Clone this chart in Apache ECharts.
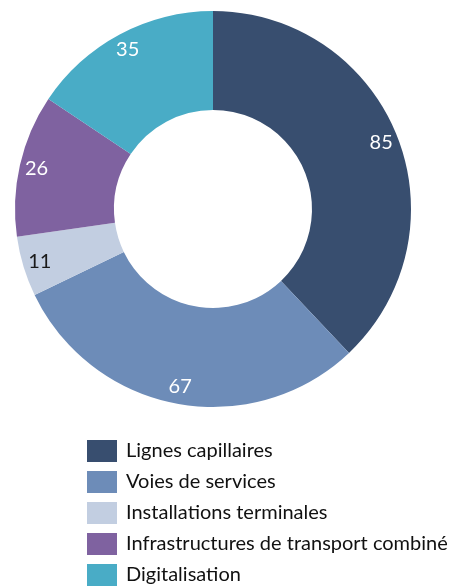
<!DOCTYPE html>
<html>
  <head>
    <meta charset="UTF-8">
    <title>Répartition</title>
    <style type="text/css">
      body {
        margin: 0;
        padding: 0;
        background-color: white;
      }
      #main {
        width: 454px;
        height: 586px;
      }
    </style>
  </head>
  <body>
    <div id="main"></div>
    <script src="https://cdn.jsdelivr.net/npm/echarts@6/dist/echarts.min.js"></script>
    <script type="text/javascript">
      var categories = ['Lignes capillaires', 'Voies de services', 'Installations terminales',
                        'Infrastructures de transport combiné', 'Digitalisation'];
      var values = [85, 67, 11, 26, 35];
      var colors = ['#384e6f', '#6d8cb8', '#c2cee1', '#7f62a0', '#49acc6'];
      var labelColors = ['#ffffff', '#ffffff', '#1a1a1a', '#ffffff', '#ffffff'];

      var data = categories.map(function (name, i) {
        return { name: name, value: values[i], itemStyle: { color: colors[i] } };
      });

      // second ring, invisible, only to put the labels near the outer edge
      var labelData = categories.map(function (name, i) {
        return {
          name: name,
          value: values[i],
          itemStyle: { color: 'rgba(0,0,0,0)' },
          label: { color: labelColors[i] }
        };
      });

      var myChart = echarts.init(document.getElementById('main'));
      var option = {
        backgroundColor: 'white',
        animation: false,
        color: colors,
        legend: {
          orient: 'vertical',
          left: 82,
          top: 435,
          height: 160,
          itemWidth: 30,
          itemHeight: 22,
          itemGap: 9,
          icon: 'rect',
          data: categories,
          textStyle: {
            fontFamily: 'Lato',
            fontSize: 20,
            color: '#111',
            padding: [0, 0, 0, 4]
          }
        },
        series: [{
          type: 'pie',
          center: [213, 209],
          radius: [99, 198],
          startAngle: 90,
          clockwise: true,
          silent: true,
          label: { show: false },
          labelLine: { show: false },
          data: data
        }, {
          type: 'pie',
          center: [213, 209],
          radius: [168, 188],
          startAngle: 90,
          clockwise: true,
          silent: true,
          label: {
            show: true,
            position: 'inside',
            formatter: '{c}',
            fontFamily: 'Lato',
            fontSize: 20
          },
          labelLine: { show: false },
          data: labelData
        }]
      };
      myChart.setOption(option);
    </script>
  </body>
</html>
